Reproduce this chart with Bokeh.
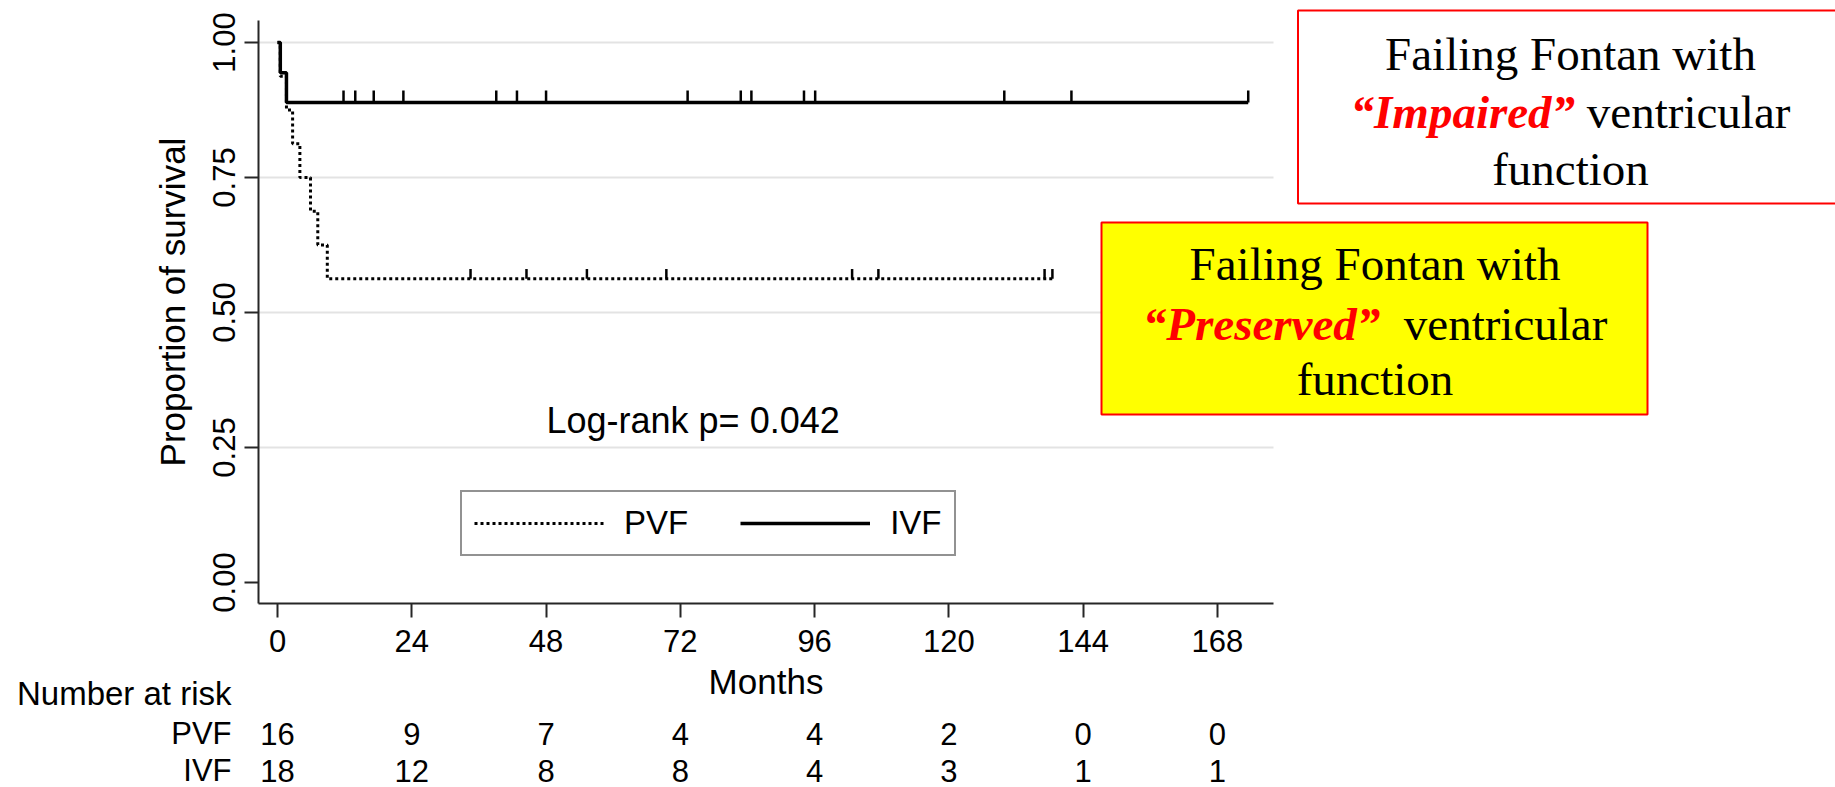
import numpy as np
from bokeh.plotting import figure
from bokeh.models import (ColumnDataSource, FixedTicker, Legend, LegendItem, Label,
                          BoxAnnotation, Range1d, NumeralTickFormatter)
from bokeh.core.properties import value
from bokeh.embed import file_html
from bokeh.resources import INLINE

# ---------------- data ----------------
month_ticks = [0, 24, 48, 72, 96, 120, 144, 168]
y_ticks = [0.0, 0.25, 0.5, 0.75, 1.0]
y_tick_labels = ["0.00", "0.25", "0.50", "0.75", "1.00"]

pvf_event_time = [0.0, 0.5, 1.6, 2.7, 4.0, 5.9, 7.2, 8.9]
pvf_survival = [1.0, 0.9375, 0.875, 0.8125, 0.75, 0.6875, 0.625, 0.5625]
pvf_censor_time = [34.5, 44.5, 55.3, 69.5, 102.7, 107.4, 137.1, 138.5]

ivf_event_time = [0.0, 0.5, 1.6]
ivf_survival = [1.0, 0.944, 0.889]
ivf_censor_time = [11.8, 13.9, 17.2, 22.5, 39.1, 42.8, 48.0, 73.3, 82.8, 84.7,
                   94.1, 96.1, 129.9, 141.9, 173.5]

risk_groups = ["PVF", "IVF"]
pvf_at_risk = [16, 9, 7, 4, 4, 2, 0, 0]
ivf_at_risk = [18, 12, 8, 8, 4, 3, 1, 1]

x_title = "Months"
y_title = "Proportion of survival"
risk_title = "Number at risk"
logrank_text = "Log-rank p= 0.042"
box1_lines = ["Failing Fontan with", "\u201cImpaired\u201d", "ventricular", "function"]
box2_lines = ["Failing Fontan with", "\u201cPreserved\u201d", "ventricular", "function"]

# ---------------- layout (pixels) ----------------
W, H = 1835, 787
FL, FB = 258, 603                 # frame left / bottom on canvas
AX_RIGHT, AX_TOP = 1273, 20       # extent of the drawn axes
X0_PX, PX_PER_MONTH = 277.0, 5.595
Y0_PX, PX_PER_UNIT = 582.0, 540.0
BASE_FIX = 12                     # svg alphabetic-baseline correction (px)


def dx(px):
    return (px - X0_PX) / PX_PER_MONTH


def dy(py):
    return (Y0_PX - py) / PX_PER_UNIT


def by(py):  # baseline position for texts
    return dy(py - BASE_FIX)


SANS = "Liberation Sans"
SERIF = "Liberation Serif"
AXC = "#262626"

p = figure(width=W, height=H, output_backend="svg", toolbar_location=None,
           x_range=Range1d(dx(FL), dx(W)), y_range=Range1d(dy(FB), dy(0)),
           min_border_left=FL, min_border_right=0,
           min_border_top=0, min_border_bottom=H - FB, title=None)
p.outline_line_color = None
p.background_fill_color = "white"
p.border_fill_color = "white"

# ---------------- axes ----------------
p.xaxis.ticker = FixedTicker(ticks=month_ticks)
p.xaxis.bounds = (dx(FL), dx(AX_RIGHT))
p.yaxis.ticker = FixedTicker(ticks=y_ticks)
p.yaxis.bounds = (dy(FB), dy(AX_TOP))
p.yaxis.formatter = NumeralTickFormatter(format="0.00")
p.yaxis.major_label_overrides = {float(t): s for t, s in zip(y_ticks, y_tick_labels)}
p.yaxis.major_label_orientation = "vertical"
for ax in (p.xaxis[0], p.yaxis[0]):
    ax.axis_line_color = AXC
    ax.axis_line_width = 2
    ax.major_tick_line_color = AXC
    ax.major_tick_line_width = 2
    ax.major_tick_out = 14
    ax.major_tick_in = 0
    ax.minor_tick_out = 0
    ax.minor_tick_in = 0
    ax.major_label_text_font = SANS
    ax.major_label_text_font_size = "31px"
    ax.major_label_text_color = "black"
    ax.axis_label_text_font = SANS
    ax.axis_label_text_font_size = "35px"
    ax.axis_label_text_font_style = "normal"
    ax.axis_label_text_color = "black"
p.yaxis.axis_label = y_title
p.xaxis.major_label_standoff = 12
p.yaxis.major_label_standoff = 10
p.yaxis.axis_label_standoff = 18

p.xgrid.visible = False
p.ygrid.visible = False
gy = y_ticks[1:]
p.segment(x0=[dx(FL)] * len(gy), x1=[dx(AX_RIGHT)] * len(gy), y0=gy, y1=gy,
          line_color="#e3e3e3", line_width=2, level="underlay")

# x-axis title, centred under the drawn axis
p.text(x=[dx((FL + AX_RIGHT) / 2)], y=[by(693)], text=[x_title], text_font=value(SANS),
       text_font_size="35px", text_align="center", text_baseline="alphabetic",
       text_color="black", level="overlay")


# ---------------- curves ----------------
def km_lookup(event_time, surv, t):
    idx = np.searchsorted(np.asarray(event_time), np.asarray(t), side="right") - 1
    return np.asarray(surv)[idx]


pvf_x = pvf_event_time + [max(pvf_censor_time)]
pvf_y = pvf_survival + [pvf_survival[-1]]
ivf_x = ivf_event_time + [max(ivf_censor_time)]
ivf_y = ivf_survival + [ivf_survival[-1]]

r_pvf = p.step(pvf_x, pvf_y, mode="after", line_color="black", line_width=3,
               line_dash="3 3")
r_ivf = p.step(ivf_x, ivf_y, mode="after", line_color="black", line_width=3.5)

pc = km_lookup(pvf_event_time, pvf_survival, pvf_censor_time)
ic = km_lookup(ivf_event_time, ivf_survival, ivf_censor_time)
p.segment(x0=pvf_censor_time, y0=pc, x1=pvf_censor_time, y1=pc + 0.018,
          line_color="black", line_width=2.5)
p.segment(x0=ivf_censor_time, y0=ic, x1=ivf_censor_time, y1=ic + 0.022,
          line_color="black", line_width=2.5)

# ---------------- legend ----------------
legend = Legend(items=[LegendItem(label="PVF", renderers=[r_pvf]),
                       LegendItem(label="IVF", renderers=[r_ivf])],
                orientation="horizontal", location=(460 - FL, FB - 556),
                glyph_width=130, glyph_height=30, label_standoff=20, spacing=52,
                padding=12, margin=0,
                border_line_color=AXC, border_line_width=2,
                background_fill_color="white", background_fill_alpha=1,
                label_text_font=SANS, label_text_font_size="33px",
                label_text_color="black")
p.add_layout(legend)

# ---------------- log-rank text ----------------
p.add_layout(Label(x=dx(546), y=by(432), text=logrank_text, text_font=SANS,
                   text_font_size="36px", text_align="left",
                   text_baseline="alphabetic", text_color="black"))

# ---------------- number at risk table (below the frame) ----------------
row_base = [by(745), by(782)]
p.text(x=[dx(231)], y=[by(705)], text=[risk_title], text_font=value(SANS),
       text_font_size="33px", text_align="right", text_baseline="alphabetic",
       text_color="black", level="overlay")
p.text(x=[dx(231)] * 2, y=row_base, text=risk_groups, text_font=value(SANS),
       text_font_size="31px", text_align="right", text_baseline="alphabetic",
       text_color="black", level="overlay")
nums = ColumnDataSource(dict(
    x=month_ticks + month_ticks,
    y=[row_base[0]] * len(month_ticks) + [row_base[1]] * len(month_ticks),
    text=[str(v) for v in pvf_at_risk + ivf_at_risk]))
p.text(x="x", y="y", text="text", source=nums, text_font=value(SANS),
       text_font_size="31px", text_align="center", text_baseline="alphabetic",
       text_color="black", level="overlay")

# ---------------- annotation boxes ----------------
p.add_layout(BoxAnnotation(left=dx(1297.5), right=dx(1845), top=dy(10), bottom=dy(203),
                           fill_color="white", fill_alpha=1.0,
                           line_color="#ff0000", line_width=2, line_alpha=1.0))
p.add_layout(BoxAnnotation(left=dx(1101), right=dx(1647), top=dy(222), bottom=dy(414),
                           fill_color="#ffff00", fill_alpha=1.0,
                           line_color="#ff0000", line_width=2, line_alpha=1.0))

BOX_FS = 47
SPACE_W = 0.25 * BOX_FS           # width of one serif space


def box_text(lines, cx, split, n_spaces, baselines):
    common = dict(text_font=SERIF, text_font_size=f"{BOX_FS}px", text_baseline="alphabetic")
    p.add_layout(Label(x=dx(cx), y=by(baselines[0]), text=lines[0], text_align="center",
                       text_color="black", **common))
    p.add_layout(Label(x=dx(split), y=by(baselines[1]), text=lines[1], text_align="right",
                       text_color="#ff0000", text_font_style="bold italic", **common))
    p.add_layout(Label(x=dx(split + n_spaces * SPACE_W), y=by(baselines[1]), text=lines[2],
                       text_align="left", text_color="black", **common))
    p.add_layout(Label(x=dx(cx), y=by(baselines[2]), text=lines[3], text_align="center",
                       text_color="black", **common))


box_text(box1_lines, 1570, 1574.6, 1, [65, 123, 180])
box_text(box2_lines, 1374.5, 1379.8, 2, [275, 335, 390])

html = file_html(p, INLINE)
html = html.replace("<head>", "<head><style>html,body{margin:0;padding:0;}</style>", 1)
open("out.html", "w").write(html)
